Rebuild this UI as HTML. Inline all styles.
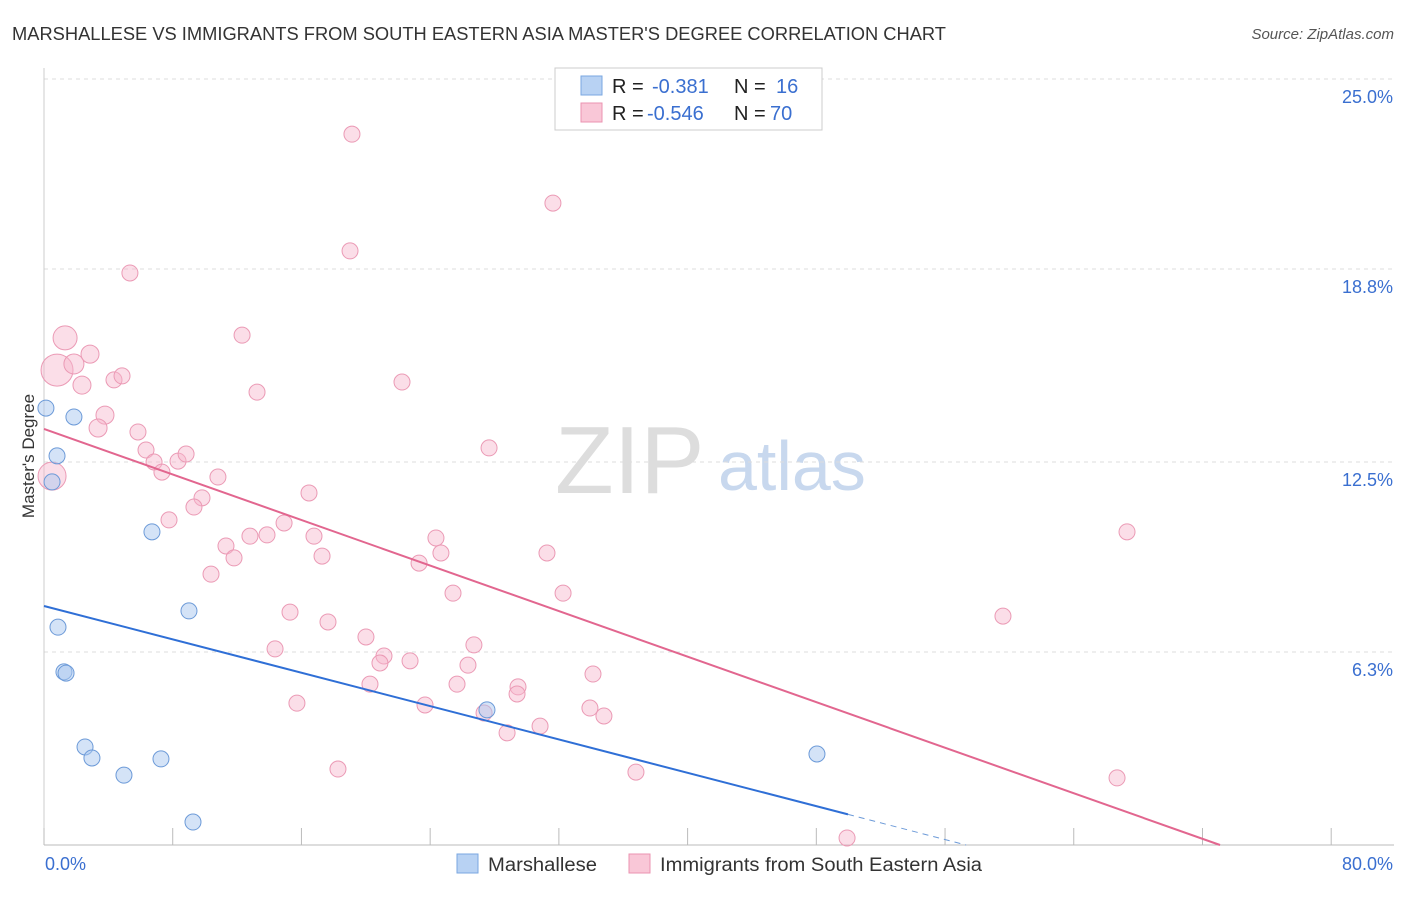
<!DOCTYPE html>
<html><head><meta charset="utf-8"><style>
body{margin:0;background:#fff;font-family:"Liberation Sans",sans-serif;}
svg text{font-family:"Liberation Sans",sans-serif;}
</style></head><body>
<svg id="chart" width="1406" height="892">
<text x="12" y="40" font-size="18" fill="#333" textLength="934" lengthAdjust="spacingAndGlyphs">MARSHALLESE VS IMMIGRANTS FROM SOUTH EASTERN ASIA MASTER'S DEGREE CORRELATION CHART</text>
<text x="1394" y="39" font-size="15" fill="#555" font-style="italic" text-anchor="end">Source: ZipAtlas.com</text>
<text x="34" y="456" font-size="17" fill="#333" transform="rotate(-90 34 456)" text-anchor="middle">Master's Degree</text>
<text x="555" y="493" font-size="96" fill="#ddd" font-family="Liberation Serif">ZIP</text>
<text x="718" y="490" font-size="70" fill="#c8d8ee">atlas</text>
<g id="grid"></g><g id="marks"></g>
<g>
<rect x="555" y="68" width="267" height="62" fill="#fff" stroke="#ccc"/>
<rect x="581" y="76" width="21" height="19" fill="#b8d2f3" stroke="#7aa7e0"/>
<rect x="581" y="103" width="21" height="19" fill="#f9c7d7" stroke="#eb93b0"/>
<text x="612" y="93" font-size="20" fill="#222">R =</text><text x="652" y="93" font-size="20" fill="#3a6fd0">-0.381</text>
<text x="734" y="93" font-size="20" fill="#222">N =</text><text x="776" y="93" font-size="20" fill="#3a6fd0">16</text>
<text x="612" y="120" font-size="20" fill="#222">R =</text><text x="647" y="120" font-size="20" fill="#3a6fd0">-0.546</text>
<text x="734" y="120" font-size="20" fill="#222">N =</text><text x="770" y="120" font-size="20" fill="#3a6fd0">70</text>
</g>
<g>
<rect x="457" y="854" width="21" height="19" fill="#b8d2f3" stroke="#7aa7e0"/>
<text x="488" y="871" font-size="19" fill="#333" textLength="109" lengthAdjust="spacingAndGlyphs">Marshallese</text>
<rect x="629" y="854" width="21" height="19" fill="#f9c7d7" stroke="#eb93b0"/>
<text x="660" y="871" font-size="19" fill="#333" textLength="322" lengthAdjust="spacingAndGlyphs">Immigrants from South Eastern Asia</text>
</g>
</svg>
<script>
const blueX=[0.12,0.81,0.50,1.86,6.71,0.87,1.24,1.37,9.01,2.55,2.98,7.27,4.97,9.26,27.53,48.04];
const blueY=[14.26,12.70,11.85,13.97,10.22,7.11,5.65,5.61,7.64,3.20,2.84,2.81,2.28,0.75,4.41,2.97];
const pinkX=[1.31,0.81,0.50,1.86,2.86,2.36,4.35,4.85,3.79,3.36,5.34,5.84,6.34,6.84,7.33,8.33,8.83,9.82,9.32,7.77,10.81,12.31,13.24,11.31,11.81,10.38,12.80,13.86,14.92,16.47,16.78,17.28,15.29,17.65,14.36,15.72,19.14,19.02,22.25,20.01,21.13,20.88,22.75,20.26,23.68,24.36,24.67,23.31,25.42,27.66,26.72,26.35,25.67,27.35,29.46,28.78,30.83,31.63,31.26,32.26,34.12,33.93,34.80,36.79,18.27,49.91,67.31,59.60,66.69,29.40];
const pinkY=[16.55,15.50,12.04,15.70,16.02,15.01,15.18,15.31,14.03,13.61,18.67,13.48,12.89,12.50,12.17,12.53,12.76,11.33,11.03,10.61,12.01,16.64,14.78,9.76,9.37,8.84,10.08,10.12,10.51,11.49,10.08,9.43,7.60,7.28,6.40,4.63,23.20,19.39,15.11,6.79,6.17,5.94,6.01,5.25,4.57,10.02,9.53,9.20,8.22,12.96,6.53,5.87,5.25,4.31,5.16,3.66,3.88,20.95,9.53,8.22,5.58,4.47,4.21,2.38,2.48,0.23,10.22,7.47,2.19,4.93];
const pinkR=[12,16,14,10,9,9,8,8,9,9,8,8,8,8,8,8,8,8,8,8,8,8,8,8,8,8,8,8,8,8,8,8,8,8,8,8,8,8,8,8,8,8,8,8,8,8,8,8,8,8,8,8,8,8,8,8,8,8,8,8,8,8,8,8,8,8,8,8,8,8];
const yTicks=[25.0,18.8,12.5,6.3];
const yTickLabels=["25.0%","18.8%","12.5%","6.3%"];
const xTicks=[0,8,16,24,32,40,48,56,64,72,80];
const blueLine=[7.80,-0.1361]; // intercept, slope
const pinkLine=[13.58,-0.1858];
const X=v=>44+v*16.09, Y=v=>845-v*30.64;
const NS="http://www.w3.org/2000/svg";
const grid=document.getElementById('grid'), marks=document.getElementById('marks');
function mk(p,tag,a){const e=document.createElementNS(NS,tag);for(const k in a)e.setAttribute(k,a[k]);p.appendChild(e);return e;}
yTicks.forEach((t,i)=>{
  const l=mk(grid,'line',{x1:44,x2:1394,y1:Y(t),y2:Y(t),stroke:'#ddd','stroke-dasharray':'4 4'});
  
  
  const tx=mk(grid,'text',{x:1393,y:Y(t)+24,'font-size':18,fill:'#3a6fd0','text-anchor':'end'});
  tx.textContent=yTickLabels[i];
  
  
});
const ax=mk(grid,'line',{x1:44,x2:1394,y1:845,y2:845,stroke:'#bbb'});


const ay=mk(grid,'line',{x1:44,x2:44,y1:68,y2:845,stroke:'#ccc'});


xTicks.forEach(t=>{const l=mk(grid,'line',{x1:X(t),x2:X(t),y1:828,y2:845,stroke:'#bbb'});
  
  });
let t0=mk(grid,'text',{x:45,y:870,'font-size':18,fill:'#3a6fd0'});t0.textContent="0.0%";


let t1=mk(grid,'text',{x:1393,y:870,'font-size':18,fill:'#3a6fd0','text-anchor':'end'});t1.textContent="80.0%";


pinkX.forEach((x,i)=>{const c=mk(marks,'circle',{cx:X(x),cy:Y(pinkY[i]),r:pinkR[i],fill:'rgba(247,182,203,0.45)',stroke:'#eb9ab5','stroke-width':1});
  
  });
blueX.forEach((x,i)=>{const c=mk(marks,'circle',{cx:X(x),cy:Y(blueY[i]),r:8,fill:'rgba(170,200,240,0.5)',stroke:'#6c9ad8','stroke-width':1});
  
  });
const bEnd=49.97, bZero=-blueLine[0]/blueLine[1];
let bl=mk(marks,'line',{x1:X(0),y1:Y(blueLine[0]),x2:X(bEnd),y2:Y(blueLine[0]+blueLine[1]*bEnd),stroke:'#2f6fd6','stroke-width':2});


let bd=mk(marks,'line',{x1:X(bEnd),y1:Y(blueLine[0]+blueLine[1]*bEnd),x2:X(bZero),y2:Y(0),stroke:'#6c9ad8','stroke-width':1,'stroke-dasharray':'6 5'});


const pZero=-pinkLine[0]/pinkLine[1];
let pl=mk(marks,'line',{x1:X(0),y1:Y(pinkLine[0]),x2:X(pZero),y2:Y(0),stroke:'#e2668f','stroke-width':2});


</script>
</body></html>
